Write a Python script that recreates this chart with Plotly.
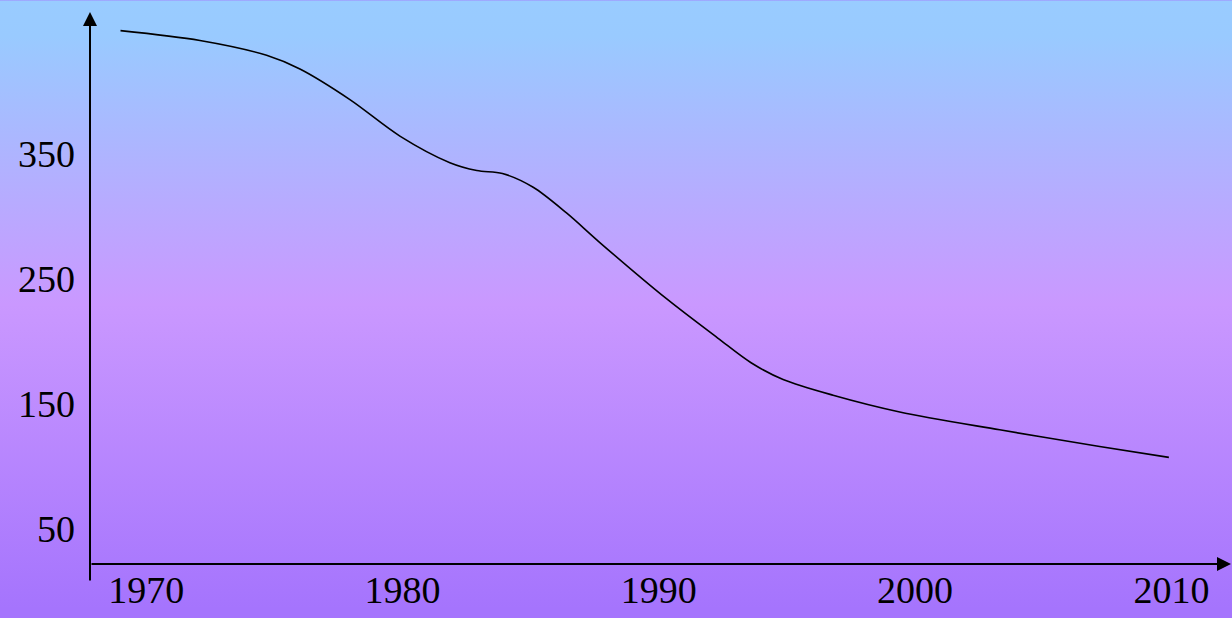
import base64
import plotly.graph_objects as go

# ---- data ----
years = [1969.0, 1972.1, 1974.7, 1976.0, 1977.95, 1979.9, 1981.85, 1982.9,
         1983.9, 1985.1, 1986.4, 1987.7, 1990.3, 1992.3, 1993.6, 1994.85,
         1996.8, 1999.4, 2003.3, 2007.2, 2009.9]
values = [448.7, 440.8, 428.9, 417.9, 393.4, 364.2, 342.9, 336.6,
          334.2, 323.2, 302.6, 278.9, 233.9, 202.4, 182.6, 169.2,
          156.6, 143.2, 128.9, 115.5, 106.8]
x_ticks = [1970, 1980, 1990, 2000, 2010]
x_tick_labels = ["1970", "1980", "1990", "2000", "2010"]
y_ticks = [50, 150, 250, 350]
y_tick_labels = ["50", "150", "250", "350"]

W, H = 1232, 618
L, R, T, B = 90, 7, 12, 45
pw, ph = W - L - R, H - T - B

svg = f'''<svg xmlns="http://www.w3.org/2000/svg" width="{W}" height="{H}" preserveAspectRatio="none">
<defs><linearGradient id="g" x1="0" y1="0" x2="0" y2="1">
<stop offset="0" stop-color="#99CCFF"/>
<stop offset="0.06" stop-color="#99CAFF"/>
<stop offset="0.5" stop-color="#CA98FF"/>
<stop offset="1" stop-color="#A574FD"/>
</linearGradient></defs>
<rect width="{W}" height="{H}" fill="url(#g)"/></svg>'''
src = "data:image/svg+xml;base64," + base64.b64encode(svg.encode()).decode()

fig = go.Figure()
fig.add_trace(go.Scatter(x=years, y=values, mode="lines",
                         line=dict(color="black", width=1.6, shape="spline", smoothing=0.9),
                         hoverinfo="skip", showlegend=False))

font = dict(family="Liberation Serif, DejaVu Serif, serif", size=38, color="black")

fig.update_layout(
    width=W, height=H,
    margin=dict(l=L, r=R, t=T, b=B, pad=0),
    paper_bgcolor="#A574FD",
    plot_bgcolor="rgba(0,0,0,0)",
    showlegend=False,
    xaxis=dict(range=[1967.81, 2012.09], tickvals=x_ticks, ticktext=x_tick_labels,
               showgrid=False, zeroline=False, showline=False, ticks="",
               tickfont=font, fixedrange=True),
    yaxis=dict(range=[21.4, 463.6], tickvals=y_ticks, ticktext=y_tick_labels,
               showgrid=False, zeroline=False, showline=False, ticks="",
               tickfont=font, ticklabelstandoff=14, fixedrange=True),
    images=[dict(source=src, xref="paper", yref="paper",
                 x=-L / pw, y=1 + T / ph, sizex=W / pw, sizey=H / ph,
                 xanchor="left", yanchor="top", sizing="stretch", layer="below")],
    annotations=[
        # x-axis arrow
        dict(xref="paper", yref="paper", x=1 + (R - 1) / pw, y=0,
             ax=-(pw + R - 1), ay=0, axref="pixel", ayref="pixel",
             showarrow=True, arrowhead=2, arrowsize=1.4, arrowwidth=2,
             arrowcolor="black", text=""),
        # y-axis arrow
        dict(xref="paper", yref="paper", x=0, y=1,
             ax=0, ay=ph + 9, axref="pixel", ayref="pixel",
             showarrow=True, arrowhead=2, arrowsize=1.4, arrowwidth=2,
             arrowcolor="black", text=""),
    ],
)

post = (
    "var h=document.documentElement,b=document.body;"
    "h.style.margin='0';h.style.padding='0';h.style.overflow='hidden';"
    "b.style.margin='0';b.style.padding='0';b.style.overflow='hidden';"
    "b.style.background='#A574FD';"
    "var d=document.getElementById('{plot_id}');"
    "d.style.display='block';"
    "if(d.parentElement){d.parentElement.style.height='618px';d.parentElement.style.overflow='hidden';}"
)

fig.write_html("out.html", config={"displayModeBar": False}, post_script=post)
